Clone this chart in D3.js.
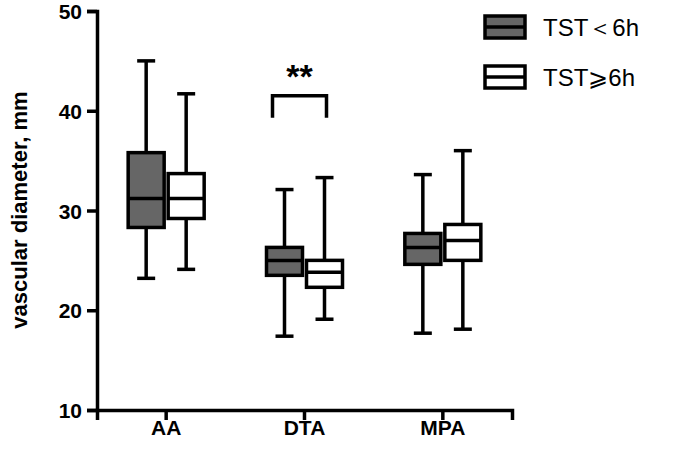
<!DOCTYPE html><html><head><script src="https://cdn.jsdelivr.net/npm/d3@7"></script>
<style>body{margin:0;background:#fff}text{font-family:Arial,"Liberation Sans",sans-serif}</style></head><body><svg width="685" height="460"></svg>
<script>
const categories=["AA","DTA","MPA"];
const groups=["TST＜6h","TST⩾6h"];
const fills=["#666666","#ffffff"];
// [min, q1, median, q3, max]
const seriesLow=[[23.2,28.3,31.2,35.8,45.0],[17.4,23.5,25.0,26.3,32.1],[17.7,24.6,26.3,27.7,33.6]];
const seriesHigh=[[24.1,29.2,31.2,33.7,41.7],[19.1,22.3,23.8,25.0,33.3],[18.1,25.0,27.0,28.6,36.0]];
const yTicks=[10,20,30,40,50];
const svg=d3.select("svg");
const y=d3.scaleLinear().domain([10,50]).range([410,11]);
const x=d3.scaleBand().domain(categories).range([97,512]).paddingInner(0.1).paddingOuter(0.05);
const xs=d3.scalePoint().domain(groups).range([-20,20]);
const sw=3.5;
const ya=svg.append("g").attr("transform","translate(97,0)").call(d3.axisLeft(y).tickValues(yTicks).tickSize(10));
const xa=svg.append("g").attr("transform","translate(0,410)").call(d3.axisBottom(x).tickSize(10));
[ya,xa].forEach(a=>{a.select(".domain").attr("stroke-width",sw).attr("stroke","#000");a.selectAll("line").attr("stroke-width",sw);a.selectAll("text").style("font-size","21px").style("font-weight","bold").attr("fill","#000");});
ya.selectAll("text").attr("dx",-2).attr("dy","0.36em");
xa.selectAll("text").attr("dy",12);
svg.append("text").attr("transform","translate(27,210) rotate(-90)").attr("text-anchor","middle").style("font-size","22px").style("font-weight","bold").text("vascular diameter, mm");
const bw=36;
[seriesLow,seriesHigh].forEach((ser,gi)=>{
 ser.forEach((d,ci)=>{
  const cx=x(categories[ci])+x.bandwidth()/2+xs(groups[gi]);
  const g=svg.append("g").attr("stroke","#000").attr("stroke-width",sw);
  g.append("line").attr("x1",cx).attr("x2",cx).attr("y1",y(d[0])).attr("y2",y(d[4]));
  g.append("line").attr("x1",cx-bw/4).attr("x2",cx+bw/4).attr("y1",y(d[0])).attr("y2",y(d[0]));
  g.append("line").attr("x1",cx-bw/4).attr("x2",cx+bw/4).attr("y1",y(d[4])).attr("y2",y(d[4]));
  g.append("rect").attr("x",cx-bw/2).attr("width",bw).attr("y",y(d[3])).attr("height",y(d[1])-y(d[3])).attr("fill",fills[gi]);
  g.append("line").attr("x1",cx-bw/2).attr("x2",cx+bw/2).attr("y1",y(d[2])).attr("y2",y(d[2]));
 });
});
const c1=x("DTA")+x.bandwidth()/2+xs(groups[0]), c2=x("DTA")+x.bandwidth()/2+xs(groups[1]);
svg.append("path").attr("d",`M${c1-12},${y(39.3)}V${y(41.5)}H${c2+2}V${y(39.3)}`).attr("fill","none").attr("stroke","#000").attr("stroke-width",sw);
svg.append("text").attr("x",(c1+c2)/2-5).attr("y",y(42.3)).attr("text-anchor","middle").style("font-size","34px").style("font-weight","bold").text("**");
groups.forEach((gname,i)=>{
 const ly=27+i*50;
 const g=svg.append("g").attr("stroke","#000").attr("stroke-width",sw);
 g.append("rect").attr("x",485).attr("y",ly-11).attr("width",40).attr("height",22).attr("fill",fills[i]);
 g.append("line").attr("x1",485).attr("x2",525).attr("y1",ly).attr("y2",ly);
 svg.append("text").attr("x",543).attr("y",ly+9).style("font-size","24px").text(gname);
});
</script></body></html>
